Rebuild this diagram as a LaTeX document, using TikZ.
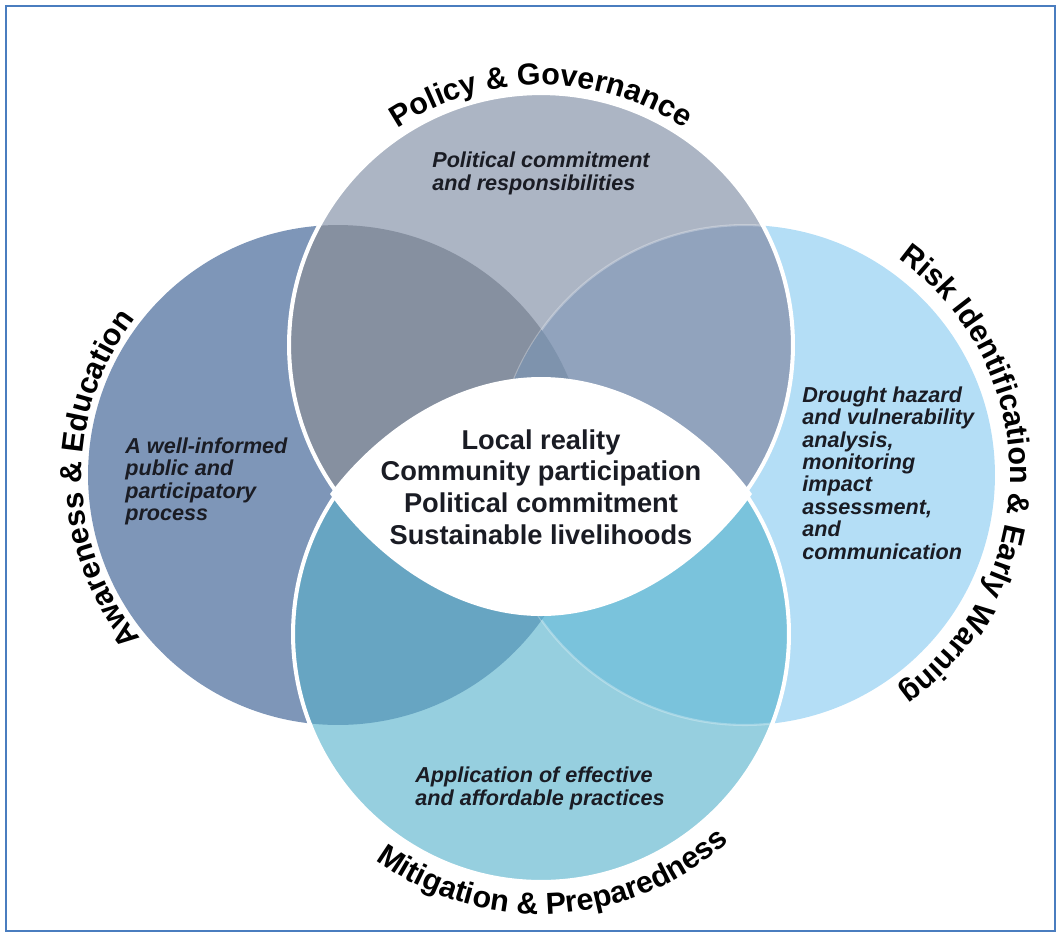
\documentclass[tikz,border=0pt]{standalone}
\usepackage{fontspec}
\setmainfont{Liberation Sans}
\usetikzlibrary{decorations.text}
\definecolor{cT}{HTML}{ACB5C4}
\definecolor{cL}{HTML}{7E96B8}
\definecolor{cR}{HTML}{B4DEF6}
\definecolor{cB}{HTML}{96CFDF}
\definecolor{cTL}{HTML}{8690A0}
\definecolor{cTR}{HTML}{91A3BD}
\definecolor{cTLR}{HTML}{7E93AD}
\definecolor{cBL}{HTML}{67A5C2}
\definecolor{cBR}{HTML}{7AC3DC}
\definecolor{cBLR}{HTML}{62ACCB}
\definecolor{framec}{HTML}{4A7DBF}
\definecolor{txt}{HTML}{1A1C24}
\newcommand\ttlfont{\bfseries\fontsize{17.3}{20}\selectfont}
\tikzset{
  itx/.style={font=\bfseries\itshape\fontsize{12.3}{12.8}\selectfont, align=left, inner sep=0pt, text=txt, anchor=north west},
  itxw/.style={itx, font=\bfseries\itshape\fontsize{12.3}{13.4}\selectfont},
  ctx/.style={font=\bfseries\fontsize{15.5}{18}\selectfont, align=center, inner sep=0pt, text=txt},
  gap/.style={white, line width=2.3pt},
  ttl/.style={decorate, decoration={text along path, text align=center, text={|\ttlfont|#1}}}
}
\begin{document}
\begin{tikzpicture}[x=0.02cm,y=0.02cm]
\useasboundingbox (0,0) rectangle (1061,-938);
\coordinate (T) at (541,-345);
\coordinate (B) at (541,-634);
\coordinate (L) at (338,-475);
\coordinate (R) at (745,-475);
\coordinate (EL) at (330,-494);
\coordinate (ER) at (752,-494);
\coordinate (ET) at (541,-377);
\coordinate (EB) at (541,-616);
% side circles
\fill[cL] (L) circle (5cm);
\fill[cR] (R) circle (5cm);
% top circle with overlaps
\fill[cT] (T) circle (5.04cm);
\begin{scope}
  \clip (T) circle (5.04cm);
  \fill[cTL] (L) circle (5cm);
  \fill[cTR] (R) circle (5cm);
  \draw[white, opacity=0.3, line width=1.2pt] (R) circle (5cm);
  \clip (L) circle (5cm);
  \fill[cTLR] (R) circle (5cm);
\end{scope}
% bottom circle with overlaps
\fill[cB] (B) circle (4.96cm);
\begin{scope}
  \clip (B) circle (4.96cm);
  \fill[cBL] (L) circle (5cm);
  \fill[cBR] (R) circle (5cm);
  \draw[white, opacity=0.3, line width=1.2pt] (R) circle (5cm);
  \clip (L) circle (5cm);
  \fill[cBLR] (R) circle (5cm);
\end{scope}
\draw[gap] (T) circle (5.04cm);
\draw[gap] (B) circle (4.96cm);
% central eye-shaped area
\fill[white] (EL) .. controls (372,-437) and (450,-377) .. (ET)
  .. controls (632,-377) and (710,-437) .. (ER)
  .. controls (710,-553) and (632,-616) .. (EB)
  .. controls (450,-616) and (372,-553) .. (EL) -- cycle;
% texts
\node[ctx] (ctr) at (541,-487) {Local reality\\Community participation\\Political commitment\\Sustainable livelihoods};
\node[itxw] (tp) at (432,-151) {Political commitment\\and responsibilities};
\node[itx] (lf) at (125,-437) {A well-informed\\public and\\participatory\\process};
\node[itx] (rt) at (802,-386) {Drought hazard\\and vulnerability\\analysis,\\monitoring\\impact\\assessment,\\and\\communication};
\node[itxw] (bt) at (415,-766) {Application of effective\\and affordable practices};
% curved titles
\path[ttl={Policy {\&} Governance}] (T) ++(150:5.2cm) arc[start angle=150, end angle=30, radius=5.2cm];
\path[ttl={Mitigation {\&} Preparedness}] (B) ++(213:5.6cm) arc[start angle=213, end angle=333, radius=5.6cm];
\path[ttl={Awareness {\&} Education}] (L) ++(241:5.12cm) arc[start angle=241, end angle=121, radius=5.12cm];
\path[ttl={Risk Identification {\&} Early Warning}] (R) ++(70:5.3cm) arc[start angle=70, end angle=-70, radius=5.3cm];
% frame
\draw[framec, line width=1.2pt] (6,-6) rectangle (1055,-931);
\end{tikzpicture}
\end{document}
